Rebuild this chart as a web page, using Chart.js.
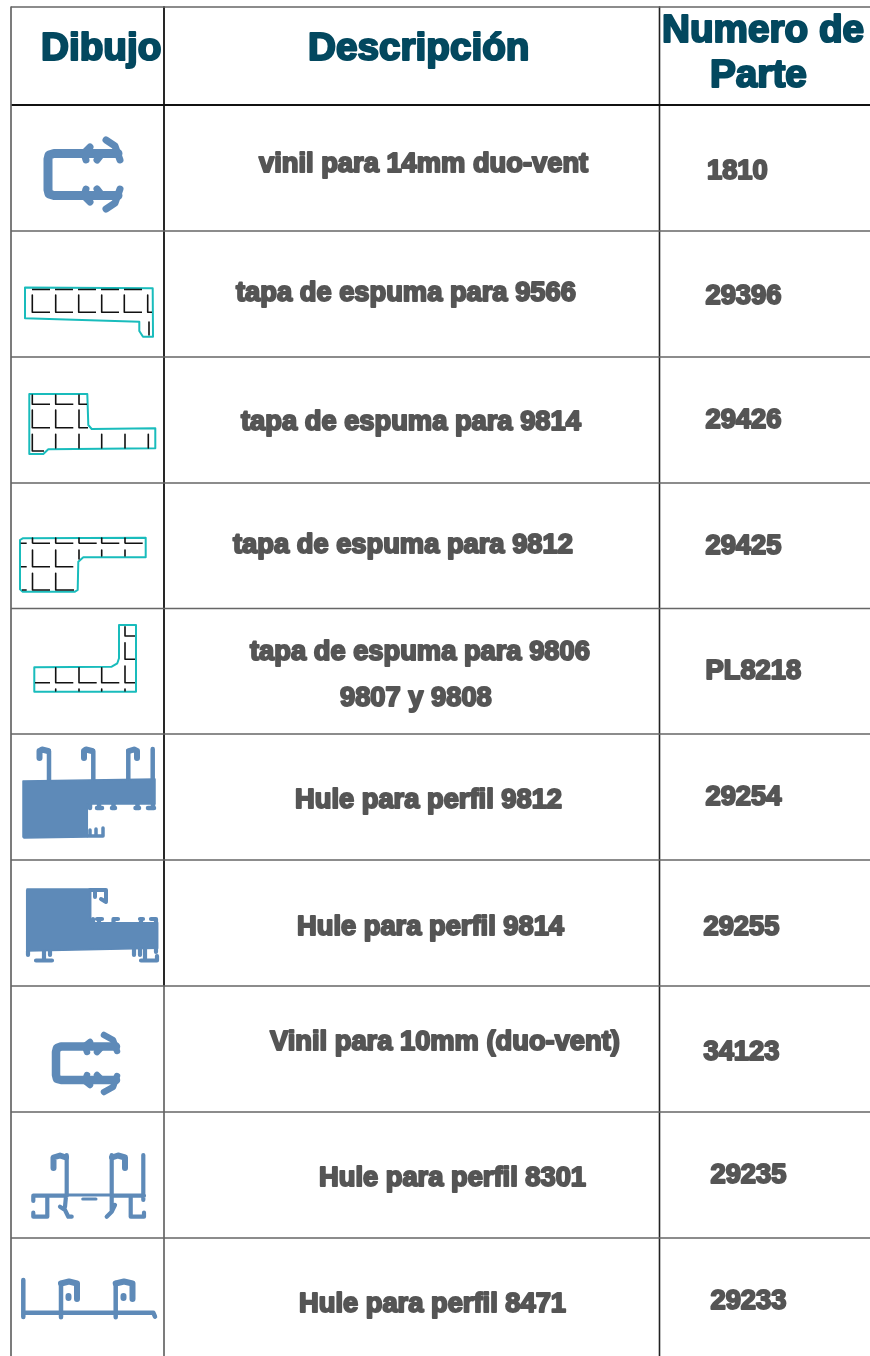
<!DOCTYPE html>
<html><head><meta charset="utf-8">
<style>html,body{margin:0;padding:0;background:#fff}#w{position:relative;width:870px;height:1356px}canvas{display:block}</style>
<script src="https://cdn.jsdelivr.net/npm/chart.js@4"></script></head>
<body><div id="w"><canvas id="c"></canvas></div>
<script>
// ---- table structure
const rowEdges=[7,231,357,483,608.5,734,860,986,1112,1238];
const headerEdge=105;
const colEdges=[659.5];
// ---- text
const headerTexts=["Dibujo","Descripción","Numero de","Parte"];
const headerX=[41,308,662,710];
const headerY=[60,60,42,87];
const descriptions=["vinil para 14mm duo-vent","tapa de espuma para 9566","tapa de espuma para 9814","tapa de espuma para 9812","tapa de espuma para 9806","9807 y 9808","Hule para perfil 9812","Hule para perfil 9814","Vinil para 10mm (duo-vent)","Hule para perfil 8301","Hule para perfil 8471"];
const descX=[259,236,241,233,250,340,295,297,270,319,299];
const descY=[172,301,430,553,660,706,808,935,1050,1186,1312];
const partNumbers=["1810","29396","29426","29425","PL8218","29254","29255","34123","29235","29233"];
const partX=[707,705.5,705.5,705.5,705.5,705.5,703.5,703.5,710.5,710.5];
const partY=[179,304,428,554,679,805,935,1060,1183,1309];
// ---- drawings
const clip1Bar=[[118,153.5],[54,153.5],[49,155],[48,159],[48,190],[49,194],[54,195.5],[118,195.5]];
const clip1Barbs=[[90,147],[84,153],[86,160],null,[97,160],[102,153.5],null,[90,202],[84,196],[86,189],null,[97,189],[102,195.5],null,[106,140],[115,146],[120,160],null,[106,209],[115,203],[120,189]];
const clip2Bar=[[116,1046.5],[61,1046.5],[57,1048],[56,1052],[56,1075],[57,1079],[61,1080],[116,1080]];
const clip2Barbs=[[90,1042],[85,1046],[87,1052],null,[97,1052],[102,1046.5],null,[90,1085],[85,1081],[87,1075],null,[97,1075],[102,1080],null,[104,1035],[113,1040],[117,1051],null,[104,1092],[113,1087],[117,1076]];
const foam1=[[25,287.5],[152.7,288.3],[153,336.7],[143,336.7],[139.3,331],[139.3,321.7],[25,318.3],[25,287.5]];
const foam1Marks=[[32.3,295],[32.3,312.3],[50,312.3],null,[55.7,295],[55.7,312.3],[73,312.3],null,[78.7,295],[78.7,312.3],[96,312.3],null,[101.7,295],[101.7,312.3],[119,312.3],null,[124.3,295],[124.3,312.3],[142,312.3],null,[147.7,295],[147.7,312.3],[152,312.3],null,[149,322],[149,335],null,[32,289.5],[50,289.5],null,[55,289.5],[73,289.5],null,[78,289.5],[96,289.5],null,[101,289.5],[119,289.5],null,[124,289.5],[142,289.5]];
const foam2=[[29.3,394],[87.3,394],[88.3,425],[91.7,429],[155.3,428.3],[155.3,448.3],[48.3,449.3],[43.3,454],[29.3,454],[29.3,394]];
const foam2Marks=[[32.3,395],[32.3,404.3],[50,404.3],null,[55.7,395],[55.7,404.3],[73.3,404.3],null,[79,395],[79,404.3],[87,404.3],null,[32.3,410],[32.3,427.7],[50,427.7],null,[55.7,410],[55.7,427.7],[73.3,427.7],null,[79,410],[79,427.7],[88,427.7],null,[32.3,434.3],[32.3,451],[44,451],null,[55.7,434.3],[55.7,448],null,[79,434.3],[79,448],null,[101.7,434.3],[101.7,448],null,[125,434.3],[125,448],null,[148.3,434.3],[148.3,448]];
const foam3=[[20,540],[22.7,538.3],[145.7,537.7],[145.7,557.3],[83.3,557.3],[78.3,561.7],[77.7,590],[75,591.7],[22.7,591.7],[20,589.3],[20,540]];
const foam3Marks=[[20.7,543.3],[26.7,543.3],null,[32.7,543.3],[50,543.3],null,[55.7,543.3],[73.3,543.3],null,[79,543.3],[96.7,543.3],null,[101.7,543.3],[119.3,543.3],null,[125,543.3],[142.7,543.3],null,[32.5,538],[32.5,543],null,[55.7,538],[55.7,543],null,[79,538],[79,543],null,[101.7,538],[101.7,543],null,[125,538],[125,543],null,[101.7,550],[101.7,556],null,[125,550],[125,556],null,[79,550],[79,559],null,[32.5,550],[32.5,566.7],[50,566.7],null,[55.7,550],[55.7,566.7],[73.3,566.7],null,[21,566.7],[26.7,566.7],null,[32.5,573.3],[32.5,590],[50,590],null,[55.7,573.3],[55.7,590],[74,590],null,[22,590],[26.7,590]];
const foam4=[[119,625],[136,625],[136,691.7],[34.3,691.7],[34.3,667.3],[111.7,666.7],[117.3,663.3],[119,658.3],[119,625]];
const foam4Marks=[[125,626.7],[125,636],[135,636],null,[125,642.7],[125,659.3],[135,659.3],null,[125,666],[125,682.7],[135,682.7],null,[55.7,667.7],[55.7,682.7],[73.3,682.7],null,[79,667.7],[79,682.7],[96.7,682.7],null,[101.7,667.7],[101.7,682.7],[119.3,682.7],null,[35,682.7],[50,682.7],null,[55.7,689],[55.7,691],null,[79,689],[79,691],null,[101.7,689],[101.7,691],null,[125,689],[125,691]];
const rubber1Body=[[23,781],[155,779],[155,804],[87.3,804],[87.3,837],[24,838],[23,837],[23,781]];
const rubber1Bottom=[[88,836],[103,836],[103,828],null,[90,830],[90,835],null,[96,829],[96,835]];
const rubber1Stems=[[49,781],[49,751],null,[93.3,781],[93.3,751],null,[128.3,781],[128.3,751],null,[152.7,781],[152.7,749]];
const rubber1Hooks=[[48,751],[42,749.5],[39.5,751],[39.5,758],null,[92,751],[86,749.5],[84,751],[84,758],null,[129,751],[134,749.5],[137,751],[137,758]];
const rubber1Stubs=[[90,804],[90,808],null,[97,808],[102,808],null,[99,804],[99,808],null,[112,808],[115,808],null,[113.5,804],[113.5,808],null,[135.5,808],[139,808],null,[137.5,804],[137.5,808],null,[148,808],[154,808],null,[153,804],[153,808]];
const rubber2Body=[[27,889],[90.7,889],[90.7,922.7],[157.7,922.7],[157.7,948.3],[27,951],[26.7,950],[26.7,890]];
const rubber2Top=[[90,890],[106,890],[106,901],null,[101,899],[106,902],null,[95,892],[95,897]];
const rubber2Stubs=[[93,919],[93,923],null,[97,919],[102,919],null,[99,919],[99,923],null,[114,919],[118,919],null,[113.5,919],[113.5,922],null,[140,919],[143,919],null,[141,919],[141,922],null,[151,919],[156,919],[156,923],null,[28,951],[28,955],null,[50,950],[50,955],null,[44,950],[44,960.5],null,[36,960.5],[52,960.5],null,[134,949],[134,955],null,[140,949],[140,955],null,[145,949],[145,960.5],null,[141,960.5],[157,960.5],[157,956],null,[156,948],[156,952]];
const rubber3Main=[[33.3,1195.7],[66.7,1195.7],null,[66.7,1155],[66.7,1195.7],null,[111.7,1155],[111.7,1195.7],null,[143.3,1155],[143.3,1200],null,[111.7,1195.7],[144,1195.7],null,[33.3,1196],[33.3,1201],null,[47.3,1198],[47.3,1216.7],[33.3,1216.7],[33.3,1212.7],null,[60,1206.7],[65,1210],[68.3,1216.7],[71.7,1216.7],null,[66,1196],[65,1206.7],null,[130.7,1198],[130.7,1216.7],[144,1216.7],[144,1212.7],null,[115,1205],[111.7,1211.7],[106.7,1216.7],null,[111.7,1196],[111.7,1211]];
const rubber3Hooks=[[53.5,1168],[53.5,1157.5],[60,1155.5],[66,1157.5],null,[125,1168],[125,1157.5],[118,1155.5],[112,1157.5]];
const rubber3Thin=[[66.7,1195],[111.7,1195],null,[82.7,1199],[96,1199]];
const rubber4Main=[[23.3,1280],[23.3,1317],null,[23.3,1312.7],[153.3,1312.7],[155,1316.7],null,[61,1283],[61,1317.3],null,[115.7,1283],[115.7,1317.3]];
const rubber4Hooks=[[61,1283.5],[69,1281.5],[77,1283.5],[77,1299],null,[115.7,1283.5],[124,1281.5],[132.5,1283.5],[132.5,1299],null,[68.5,1296],[68.5,1298],null,[123.5,1296],[123.5,1298]];
// ---- colours
const gridGrey="#666666",black="#111111",teal="#19bcbc",ink="#111111",steel="#5e8ab8";

const toPoints=a=>a.map(p=>p?{x:p[0],y:p[1]}:{x:NaN,y:NaN});
const stroke=(a,color,w,extra)=>Object.assign({data:toPoints(a),showLine:true,pointRadius:0,borderColor:color,borderWidth:w,borderJoinStyle:"round",borderCapStyle:"round",tension:0,spanGaps:false,fill:false,clip:false},extra||{});
const poly=(a,color)=>stroke(a,color,1.5,{backgroundColor:color,fill:"shape"});
const butt={borderCapStyle:"butt"};

const datasets=[];
// table lines, built from the edge arrays
rowEdges.forEach(y=>datasets.push(stroke([[11,y],[870,y]],gridGrey,1.7,butt)));
datasets.push(stroke([[11,7],[11,1356]],gridGrey,1.7,butt));
datasets.push(stroke([[164,986],[164,1356]],gridGrey,1.7,butt));
datasets.push(stroke([[11,headerEdge],[870,headerEdge]],black,2,butt));
datasets.push(stroke([[164,7],[164,986]],black,1.8,butt));
colEdges.forEach(x=>datasets.push(stroke([[x,7],[x,1356]],"#222222",1.6,butt)));
// clips
datasets.push(stroke(clip1Bar,steel,9),stroke(clip1Barbs,steel,7));
datasets.push(stroke(clip2Bar,steel,8.5),stroke(clip2Barbs,steel,6.5));
// foam caps
[[foam1,foam1Marks],[foam2,foam2Marks],[foam3,foam3Marks],[foam4,foam4Marks]].forEach(([o,m])=>{datasets.push(stroke(m,ink,1.6,butt),stroke(o,teal,2));});
// rubber
datasets.push(poly(rubber1Body,steel),stroke(rubber1Bottom,steel,3.5),stroke(rubber1Stems,steel,4.5),stroke(rubber1Hooks,steel,6),stroke(rubber1Stubs,steel,4.5));
datasets.push(poly(rubber2Body,steel),stroke(rubber2Top,steel,4),stroke(rubber2Stubs,steel,4.2));
datasets.push(stroke(rubber3Main,steel,4.2),stroke(rubber3Hooks,steel,6),stroke(rubber3Thin,steel,3));
datasets.push(stroke(rubber4Main,steel,4.5),stroke(rubber4Hooks,steel,6));

const textPlugin={id:"tableText",afterDatasetsDraw(chart){
  const {ctx,scales:{x,y}}=chart;
  const put=(t,px,py,size,color,lw)=>{
    ctx.font="bold "+size+"px 'Liberation Sans'";
    ctx.textAlign="left";ctx.textBaseline="alphabetic";ctx.lineJoin="round";
    ctx.fillStyle=color;ctx.strokeStyle=color;ctx.lineWidth=lw;
    ctx.strokeText(t,x.getPixelForValue(px),y.getPixelForValue(py));
    ctx.fillText(t,x.getPixelForValue(px),y.getPixelForValue(py));
  };
  ctx.save();
  headerTexts.forEach((t,i)=>put(t,headerX[i],headerY[i],38.7,"#03485f",2.2));
  descriptions.forEach((t,i)=>put(t,descX[i],descY[i],27.3,"#555555",2));
  partNumbers.forEach((t,i)=>put(t,partX[i],partY[i],27.3,"#555555",2));
  ctx.restore();
}};

new Chart(document.getElementById("c"),{type:"scatter",data:{datasets},plugins:[textPlugin],options:{
  responsive:true,maintainAspectRatio:false,animation:false,
  layout:{padding:0},
  plugins:{legend:{display:false},tooltip:{enabled:false},title:{display:false}},
  scales:{x:{type:"linear",min:0,max:870,display:false},y:{type:"linear",min:0,max:1356,reverse:true,display:false}}
}});
</script></body></html>
